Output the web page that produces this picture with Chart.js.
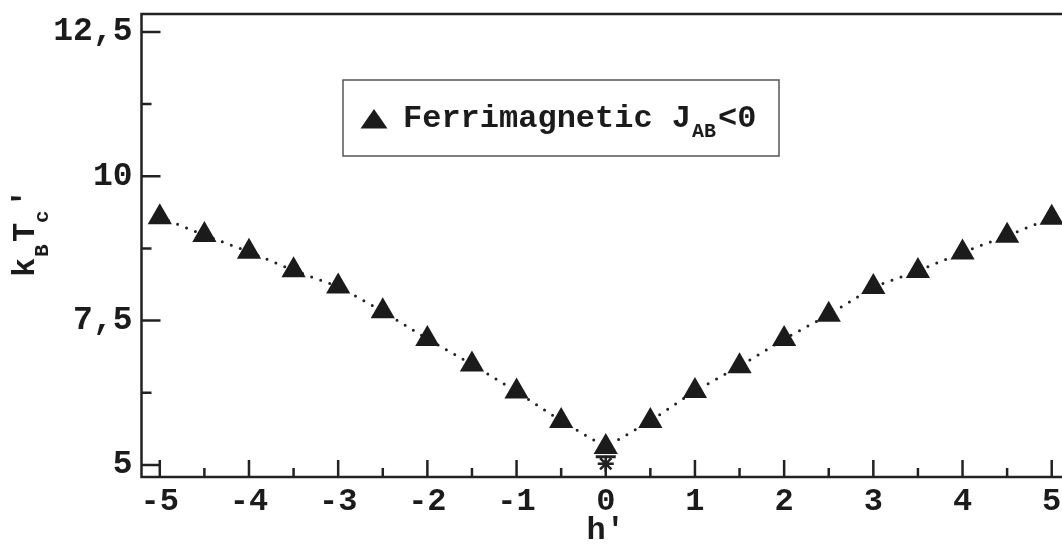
<!DOCTYPE html>
<html>
<head>
<meta charset="utf-8">
<script src="https://cdn.jsdelivr.net/npm/chart.js@4/dist/chart.umd.min.js"></script>
<style>
  html, body { margin: 0; padding: 0; background: #fff; overflow: hidden; }
  #wrap { width: 1085px; height: 549px; }
</style>
</head>
<body>
<div id="wrap"><canvas id="tcChart" width="1085" height="549"></canvas></div>
<script>
// critical temperature vs. reduced field, ferrimagnetic case
const hValues = [-5, -4.5, -4, -3.5, -3, -2.5, -2, -1.5, -1, -0.5, 0, 0.5, 1, 1.5, 2, 2.5, 3, 3.5, 4, 4.5, 5];
const tcValues = [9.29, 8.98, 8.69, 8.37, 8.09, 7.66, 7.18, 6.74, 6.27, 5.76, 5.31, 5.76, 6.28, 6.71, 7.18, 7.60, 8.08, 8.36, 8.68, 8.97, 9.28];

// extra marks at h'=0
const starPoint = [{ x: 0, y: 5.02 }];
const barPoint = [{ x: 0, y: 5.14 }];

const xMajorTicks = [-5, -4, -3, -2, -1, 0, 1, 2, 3, 4, 5];
const xMinorTicks = [-4.5, -3.5, -2.5, -1.5, -0.5, 0.5, 1.5, 2.5, 3.5, 4.5];
const yMajorTicks = [5, 7.5, 10, 12.5];
const yMinorTicks = [6.25, 8.75, 11.25];

const FONT = "'Liberation Mono', 'DejaVu Sans Mono', monospace";
const INK = '#1b1b1b';

// frame, inward ticks, y title and legend box
const decorations = {
    id: 'decorations',
    afterDraw(chart) {
        const { ctx, chartArea: a, scales } = chart;
        const xs = scales.x, ys = scales.y;
        ctx.save();
        ctx.strokeStyle = '#222';
        ctx.lineWidth = 2.5;

        ctx.beginPath();
        xMajorTicks.forEach(v => {
            const px = xs.getPixelForValue(v);
            ctx.moveTo(px, a.bottom); ctx.lineTo(px, a.bottom - 17);
        });
        xMinorTicks.forEach(v => {
            const px = xs.getPixelForValue(v);
            ctx.moveTo(px, a.bottom); ctx.lineTo(px, a.bottom - 9);
        });
        yMajorTicks.forEach(v => {
            const py = ys.getPixelForValue(v);
            ctx.moveTo(a.left, py); ctx.lineTo(a.left + 19, py);
        });
        yMinorTicks.forEach(v => {
            const py = ys.getPixelForValue(v);
            ctx.moveTo(a.left, py); ctx.lineTo(a.left + 10, py);
        });
        ctx.stroke();

        ctx.strokeRect(a.left, a.top, a.right - a.left, a.bottom - a.top);

        // y axis title k_B T_c'
        ctx.fillStyle = INK;
        ctx.translate(34, 277);
        ctx.rotate(-Math.PI / 2);
        ctx.textBaseline = 'alphabetic';
        ctx.textAlign = 'left';
        let cx = 0;
        const big = 'bold 32px ' + FONT, small = 'bold 21px ' + FONT;
        ctx.font = big; ctx.fillText('k', cx, 0); cx += 20;
        ctx.font = small; ctx.fillText('B', cx, 14); cx += 15;
        ctx.font = big; ctx.fillText('T', cx, 0); cx += 19;
        ctx.font = small; ctx.fillText('c', cx, 14); cx += 15;
        ctx.font = big; ctx.fillText('\u2032', cx, 0);
        ctx.setTransform(1, 0, 0, 1, 0, 0);

        // legend box
        ctx.lineWidth = 1.5;
        ctx.strokeStyle = '#555';
        ctx.strokeRect(343, 80, 436, 76);
        ctx.fillStyle = INK;
        ctx.beginPath();
        ctx.moveTo(374, 109);
        ctx.lineTo(387.5, 128.5);
        ctx.lineTo(360.5, 128.5);
        ctx.closePath();
        ctx.fill();
        let tx = 403;
        ctx.font = 'bold 32px ' + FONT;
        ctx.fillText('Ferrimagnetic J', tx, 127);
        tx += ctx.measureText('Ferrimagnetic J').width + 1;
        ctx.font = 'bold 20px ' + FONT;
        ctx.fillText('AB', tx, 137);
        tx += ctx.measureText('AB').width + 2;
        ctx.font = 'bold 32px ' + FONT;
        ctx.fillText('<0', tx, 127);
        ctx.restore();
    }
};

new Chart(document.getElementById('tcChart'), {
    type: 'line',
    data: {
        datasets: [
            {
                label: 'Ferrimagnetic',
                data: hValues.map((h, i) => ({ x: h, y: tcValues[i] })),
                borderColor: '#222',
                borderWidth: 3,
                borderDash: [0, 9.6],
                borderCapStyle: 'round',
                tension: 0,
                pointStyle: 'triangle',
                pointRadius: 14,
                pointBackgroundColor: INK,
                pointBorderColor: INK,
                pointBorderWidth: 0,
                clip: false
            },
            {
                label: 'star',
                data: starPoint,
                showLine: false,
                pointStyle: 'star',
                pointRadius: 8,
                pointBorderColor: '#222',
                pointBorderWidth: 2.5
            },
            {
                label: 'bar',
                data: barPoint,
                showLine: false,
                pointStyle: 'line',
                pointRadius: 10,
                pointBorderColor: '#222',
                pointBorderWidth: 3
            }
        ]
    },
    options: {
        responsive: false,
        animation: false,
        devicePixelRatio: 1,
        layout: { padding: { top: 12, right: 15, left: 0, bottom: 0 } },
        plugins: { legend: { display: false }, tooltip: { enabled: false } },
        scales: {
            x: {
                type: 'linear',
                min: -5.205,
                max: 5.205,
                afterBuildTicks: s => { s.ticks = xMajorTicks.map(v => ({ value: v })); },
                afterFit: s => { s.height = 72; s.paddingLeft = 0; s.paddingRight = 0; },
                grid: { drawOnChartArea: false, drawTicks: false },
                border: { display: false },
                ticks: {
                    autoSkip: false,
                    maxRotation: 0,
                    padding: 6,
                    color: INK,
                    font: { family: FONT, weight: 'bold', size: 32 }
                },
                title: {
                    display: true,
                    text: 'h\u2032',
                    color: INK,
                    font: { family: FONT, weight: 'bold', size: 32 },
                    padding: { top: 0, bottom: -1 }
                }
            },
            y: {
                type: 'linear',
                min: 4.79,
                max: 12.81,
                afterBuildTicks: s => { s.ticks = yMajorTicks.map(v => ({ value: v })); },
                afterFit: s => { s.width = 141.5; s.paddingTop = 0; s.paddingBottom = 0; },
                grid: { drawOnChartArea: false, drawTicks: false },
                border: { display: false },
                ticks: {
                    padding: 9,
                    color: INK,
                    font: { family: FONT, weight: 'bold', size: 33 },
                    callback: v => String(v).replace('.', ',')
                }
            }
        }
    },
    plugins: [decorations]
});
</script>
</body>
</html>
